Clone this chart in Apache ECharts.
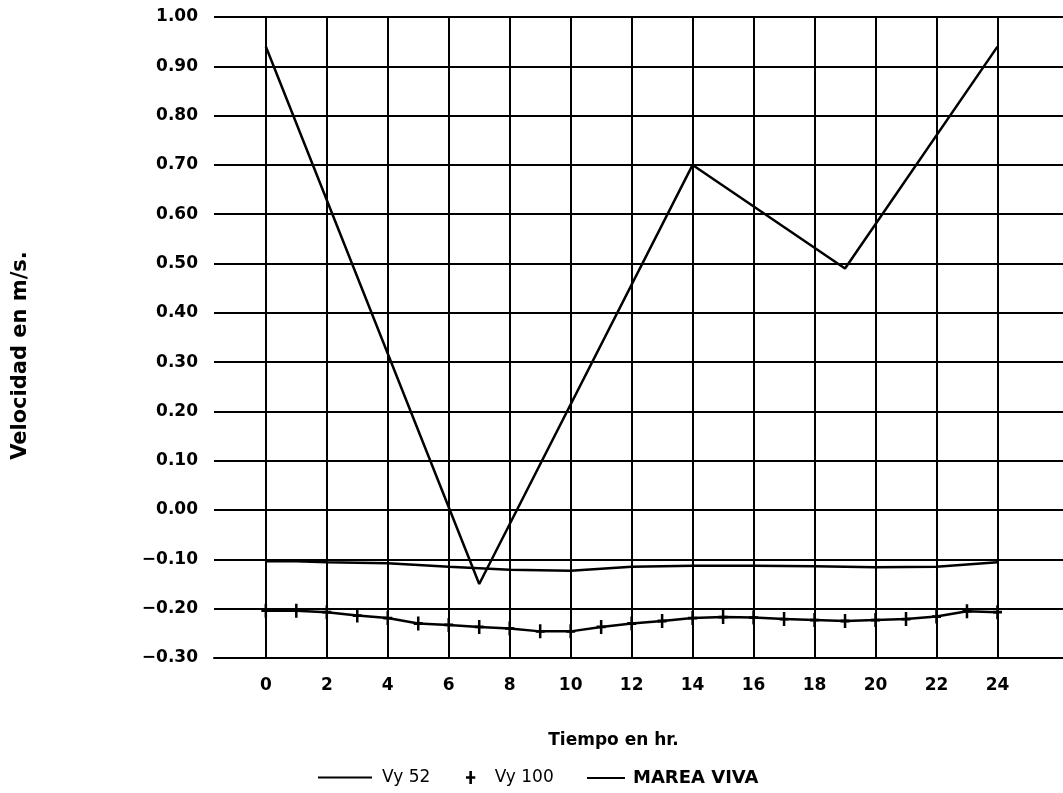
<!DOCTYPE html>
<html>
<head>
<meta charset="utf-8">
<script src="https://cdn.jsdelivr.net/npm/echarts@6/dist/echarts.min.js"></script>
<style>
html,body{margin:0;padding:0;background:#fff;}
#chart{width:1063px;height:793px;}
</style>
</head>
<body>
<div id="chart"></div>
<script>
// ---- data ----
const xTicks = [0, 2, 4, 6, 8, 10, 12, 14, 16, 18, 20, 22, 24];
const vy52Hours = [0, 7, 14, 19, 24];
const vy52Values = [0.94, -0.15, 0.70, 0.49, 0.94];
const mareaHours = [0, 1, 2, 4, 6, 8, 10, 12, 14, 16, 18, 20, 22, 24];
const mareaValues = [-0.104, -0.104, -0.106, -0.108, -0.115, -0.121, -0.123, -0.115, -0.113, -0.113, -0.114, -0.116, -0.115, -0.106];
const vy100Hours = [0, 1, 2, 3, 4, 5, 6, 7, 8, 9, 10, 11, 12, 13, 14, 15, 16, 17, 18, 19, 20, 21, 22, 23, 24];
const vy100Values = [-0.204, -0.204, -0.207, -0.214, -0.219, -0.230, -0.233, -0.237, -0.240, -0.246, -0.246, -0.237, -0.230, -0.225, -0.219, -0.217, -0.218, -0.221, -0.223, -0.225, -0.223, -0.221, -0.216, -0.205, -0.207];

const pair = (xs, ys) => xs.map((x, i) => [x, ys[i]]);
const plusPath = 'path://M3.6,0H6.4V14H3.6Z M0,5.6H10V8.4H0Z';
const FONT = 'DejaVu Sans';

const chart = echarts.init(document.getElementById('chart'), null, {renderer: 'canvas'});
chart.setOption({
  animation: false,
  backgroundColor: '#ffffff',
  grid: {left: 214, top: 17, bottom: 135, right: -20, containLabel: false},
  xAxis: {
    type: 'value',
    min: -1.7,
    max: 26.15,
    name: 'Tiempo en hr.',
    nameLocation: 'middle',
    nameGap: 74,
    nameTextStyle: {color: '#000', fontFamily: FONT, fontSize: 17, fontWeight: 'bold', padding: [0, 50, 0, 0]},
    axisLine: {show: true, onZero: false, lineStyle: {color: '#000', width: 2}},
    axisTick: {show: false, customValues: xTicks},
    axisLabel: {customValues: xTicks, color: '#000', fontFamily: FONT, fontSize: 17, fontWeight: 'bold', margin: 19},
    splitLine: {show: true, lineStyle: {color: '#000', width: 2}}
  },
  yAxis: {
    type: 'value',
    min: -0.3,
    max: 1.0,
    interval: 0.1,
    name: 'Velocidad en m/s.',
    nameLocation: 'middle',
    nameRotate: 90,
    nameGap: 183,
    nameTextStyle: {color: '#000', fontFamily: FONT, fontSize: 21, fontWeight: 'bold', padding: [0, 36, 0, 0]},
    axisLine: {show: true, lineStyle: {color: '#000', width: 2}},
    axisTick: {show: false},
    axisLabel: {
      color: '#000', fontFamily: FONT, fontSize: 17, fontWeight: 'bold', margin: 16,
      formatter: v => (v < -1e-9 ? '\u2212' : '') + Math.abs(v).toFixed(2)
    },
    splitLine: {show: true, lineStyle: {color: '#000', width: 2}}
  },
  legend: [
    {
      left: 313, top: 764, orient: 'horizontal', selectedMode: false,
      itemWidth: 54, itemHeight: 2,
      textStyle: {color: '#000', fontFamily: FONT, fontSize: 17, padding: [0, 0, 0, 5]},
      data: [{name: 'Vy 52', icon: 'rect'}]
    },
    {
      left: 461, top: 764, orient: 'horizontal', selectedMode: false,
      itemWidth: 10, itemHeight: 13,
      textStyle: {color: '#000', fontFamily: FONT, fontSize: 17, padding: [0, 0, 0, 14]},
      data: [{name: 'Vy 100', icon: plusPath}]
    },
    {
      left: 582, top: 764, orient: 'horizontal', selectedMode: false,
      itemWidth: 38, itemHeight: 2,
      textStyle: {color: '#000', fontFamily: FONT, fontSize: 18, fontWeight: 'bold', padding: [0, 0, 0, 3]},
      data: [{name: 'MAREA VIVA', icon: 'rect'}]
    }
  ],
  series: [
    {
      name: 'Vy 52', type: 'line', data: pair(vy52Hours, vy52Values),
      showSymbol: false, symbol: 'none', color: '#000',
      lineStyle: {color: '#000', width: 2.5}
    },
    {
      name: 'MAREA VIVA', type: 'line', data: pair(mareaHours, mareaValues),
      showSymbol: false, symbol: 'none', color: '#000',
      lineStyle: {color: '#000', width: 2.5}
    },
    {
      name: 'Vy 100', type: 'line', data: pair(vy100Hours, vy100Values),
      symbol: plusPath, symbolSize: [9, 14], showSymbol: true, color: '#000',
      itemStyle: {color: '#000'},
      lineStyle: {color: '#000', width: 2.5}
    }
  ]
});
</script>
</body>
</html>
